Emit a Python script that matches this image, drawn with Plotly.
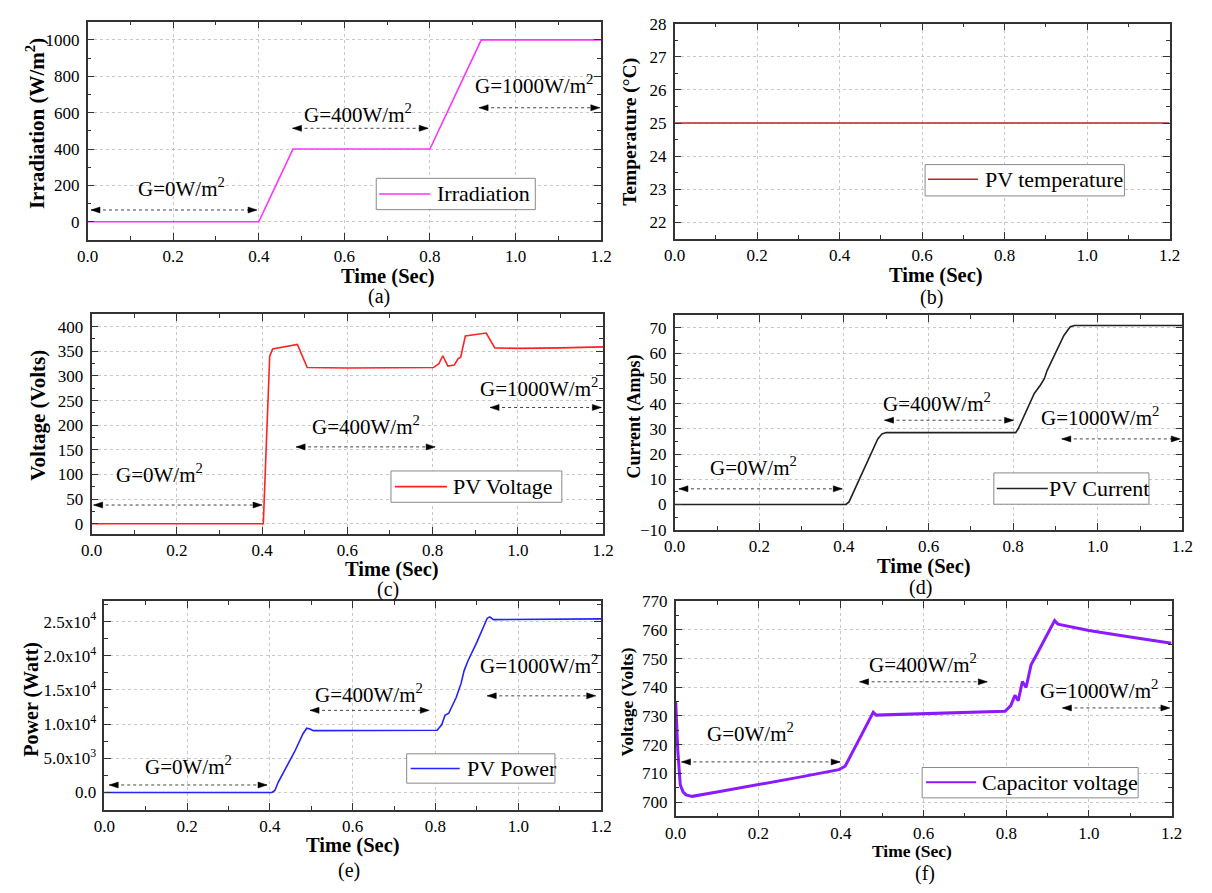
import plotly.graph_objects as go

W, H = 1212, 893
FONT = "Liberation Serif"

# ---------------- data ----------------
irr_t = [0.0, 0.40, 0.48, 0.80, 0.92, 1.20]
irr_g = [0, 0, 400, 400, 1000, 1000]

temp_t = [0.0, 1.2]
temp_c = [25, 25]

pv_v_t = [0.0, 0.400, 0.403, 0.418, 0.425, 0.483, 0.506, 0.60, 0.70, 0.802, 0.815,
          0.824, 0.836, 0.851, 0.860, 0.866, 0.877, 0.926, 0.946, 1.0, 1.1, 1.2]
pv_v = [0, 0, 0, 340, 355, 364, 317, 316, 317, 317, 325,
        341, 320, 322, 335, 338, 381, 387, 357, 356, 357, 359]

pv_i_t = [0.0, 0.405, 0.412, 0.42, 0.46, 0.48, 0.49, 0.50, 0.60, 0.70, 0.806, 0.812,
          0.82, 0.85, 0.865, 0.874, 0.88, 0.92, 0.935, 0.945, 1.0, 1.2]
pv_i = [0, 0, 1, 4, 19, 26, 28, 28.5, 28.5, 28.5, 28.5, 30,
        33, 44, 47.5, 50, 53, 67, 70.5, 71, 71, 71]

pv_p_t = [0.0, 0.405, 0.412, 0.42, 0.46, 0.48, 0.489, 0.497, 0.505, 0.60, 0.70, 0.804,
          0.815, 0.823, 0.832, 0.850, 0.862, 0.869, 0.878, 0.90, 0.925, 0.931, 0.94,
          1.0, 1.1, 1.2]
pv_p = [0, 0, 300, 1500, 6000, 8600, 9400, 9300, 9050, 9050, 9050, 9100,
        9900, 11300, 11600, 13900, 16000, 17800, 19200, 22000, 25500, 25700, 25300,
        25300, 25300, 25400]

cap_t = [0.0, 0.005, 0.011, 0.018, 0.025, 0.04, 0.1, 0.2, 0.3, 0.395, 0.41, 0.45,
         0.478, 0.485, 0.6, 0.7, 0.797, 0.811, 0.821, 0.829, 0.839, 0.848, 0.860,
         0.871, 0.917, 0.925, 1.0, 1.1, 1.2]
cap_v = [735, 718, 706, 703.5, 702.5, 702, 703.5, 706, 708.7, 711.3, 712.5, 723.5,
         731.3, 730.3, 730.8, 731.2, 731.6, 733.6, 737.2, 735.3, 742, 739.9, 747.8,
         750.7, 763.2, 762, 759.8, 757.5, 755.3]

power_tickvals = [0, 5000, 10000, 15000, 20000, 25000]
power_ticktext = ["0.0", "5.0x10<sup>3</sup>", "1.0x10<sup>4</sup>", "1.5x10<sup>4</sup>",
                  "2.0x10<sup>4</sup>", "2.5x10<sup>4</sup>"]

# irradiance region labels: (x, y, text) and dotted double-headed spans: (x0, x1, y)
G0 = "G=0W/m<sup>2</sup>"
G4 = "G=400W/m<sup>2</sup>"
G10 = "G=1000W/m<sup>2</sup>"
region_labels = {
    1: [(0.220, 186, G0), (0.631, 595, G4), (1.043, 754, G10)],
    3: [(0.159, 101, G0), (0.643, 200, G4), (1.05, 277, G10)],
    4: [(0.186, 15, G0), (0.619, 40.4, G4), (1.005, 35, G10)],
    5: [(0.204, 3964, G0), (0.639, 14550, G4), (1.049, 18700, G10)],
    6: [(0.182, 724.3, G0), (0.598, 748.4, G4), (1.024, 739.3, G10)],
}
region_spans = {
    1: [(0.008, 0.396, 65), (0.479, 0.796, 514), (0.915, 1.197, 627)],
    3: [(0.005, 0.40, 38), (0.48, 0.806, 156), (0.935, 1.196, 236)],
    4: [(0.010, 0.396, 6.2), (0.496, 0.801, 33.4), (0.915, 1.195, 26)],
    5: [(0.012, 0.393, 1100), (0.497, 0.785, 12020), (0.925, 1.187, 14140)],
    6: [(0.014, 0.398, 714), (0.445, 0.754, 741.9), (0.936, 1.196, 732.8)],
}

# ---------------- panel geometry (pixels: left, right, top, bottom) ----------------
boxes = {
    1: (78, 601, 13, 236),
    2: (676, 1180, 15, 235),
    3: (82, 603, 312, 536),
    4: (676, 1193, 313, 532),
    5: (95, 601, 605, 818),
    6: (677, 1182, 605, 825),
}

yspec = {
    1: dict(range=[-100, 1100], dtick=200, minor=100, tick0=0),
    2: dict(range=[21.5, 28], dtick=1, minor=0.5, tick0=22),
    3: dict(range=[-20, 425], dtick=50, minor=25, tick0=0),
    4: dict(range=[-10, 75], dtick=10, minor=5, tick0=-10),
    5: dict(range=[-2500, 28000], dtick=5000, minor=2500, tick0=0),
    6: dict(range=[695, 770], dtick=10, minor=5, tick0=700),
}

series = [
    (1, irr_t, irr_g, "Irradiation", "#ff33ff", 1.6),
    (2, temp_t, temp_c, "PV temperature", "#b22a2a", 1.6),
    (3, pv_v_t, pv_v, "PV Voltage", "#ff2222", 1.6),
    (4, pv_i_t, pv_i, "PV Current", "#222222", 1.6),
    (5, pv_p_t, pv_p, "PV Power", "#2222ff", 1.6),
    (6, cap_t, cap_v, "Capacitor voltage", "#8c1aff", 3.0),
]

# legend boxes: (box x0, x1, y0, y1, line x0, x1, line y, text x) in pixels
legend_boxes = {
    1: (372, 534, 173, 205, 375, 427, 189, 432),
    2: (931, 1134, 159, 191, 934, 985, 174, 990),
    3: (387, 561, 472, 504, 391, 444, 488, 448),
    4: (1001, 1159, 474, 506, 1004, 1056, 490, 1055),
    5: (403, 554, 761, 791, 407, 457, 776, 462),
    6: (928, 1148, 775, 806, 932, 983, 790, 987),
}

fig = go.Figure()

for k, t, v, name, color, lw in series:
    sfx = "" if k == 1 else str(k)
    fig.add_trace(go.Scatter(
        x=t, y=v, mode="lines", name=name, showlegend=False,
        line=dict(color=color, width=lw),
        xaxis="x" + sfx, yaxis="y" + sfx,
    ))

layout = dict(
    width=W, height=H,
    margin=dict(l=0, r=0, t=0, b=0),
    paper_bgcolor="white", plot_bgcolor="white",
    font=dict(family=FONT, size=16, color="black"),
    showlegend=False,
)

axis_common = dict(
    showline=True, linecolor="#333333", linewidth=1.5, mirror="allticks",
    ticks="inside", ticklen=7, tickwidth=1.3, tickcolor="#333333",
    showgrid=True, gridcolor="#c8c8c8", griddash="dot", gridwidth=1,
    zeroline=False,
    tickfont=dict(family=FONT, size=17, color="black"),
)

for k, (l, r, t, b) in boxes.items():
    sfx = "" if k == 1 else str(k)
    xd = [l / W, r / W]
    yd = [1 - b / H, 1 - t / H]
    ys = yspec[k]
    layout["xaxis" + sfx] = dict(
        axis_common, domain=xd, range=[0, 1.2], tick0=0, dtick=0.2,
        tickformat=".1f", anchor="y" + sfx,
        minor=dict(ticks="inside", ticklen=4, dtick=0.1, tick0=0,
                   tickcolor="#333333", showgrid=False),
    )
    yax = dict(
        axis_common, domain=yd, range=ys["range"], tick0=ys["tick0"], dtick=ys["dtick"],
        anchor="x" + sfx, ticklabelstandoff=3,
        minor=dict(ticks="inside", ticklen=4, dtick=ys["minor"], tick0=ys["tick0"],
                   tickcolor="#333333", showgrid=False),
    )
    if k == 5:
        yax.update(tickmode="array", tickvals=power_tickvals, ticktext=power_ticktext)
        yax["minor"] = dict(ticks="inside", ticklen=4, tickmode="array",
                            tickvals=[-2500, 2500, 7500, 12500, 17500, 22500, 27500],
                            tickcolor="#333333", showgrid=False)
    layout["yaxis" + sfx] = yax

fig.update_layout(**layout)

annotations = []
shapes = []

# region labels and dotted double-headed spans with filled arrowheads
for k in region_labels:
    sfx = "" if k == 1 else str(k)
    for x, y, txt in region_labels[k]:
        annotations.append(dict(
            x=x, y=y, xref="x" + sfx, yref="y" + sfx, text=txt, showarrow=False,
            font=dict(family=FONT, size=21, color="black"),
            xanchor="center", yanchor="middle",
        ))
    for x0, x1, y in region_spans[k]:
        shapes.append(dict(
            type="line", x0=x0, x1=x1, y0=y, y1=y, xref="x" + sfx, yref="y" + sfx,
            line=dict(color="#444444", width=1, dash="dot"),
        ))
        for xe, head in ((x0, "M0,0 L9,3 L9,-3 Z"), (x1, "M0,0 L-9,3 L-9,-3 Z")):
            shapes.append(dict(
                type="path", xref="x" + sfx, yref="y" + sfx,
                xsizemode="pixel", ysizemode="pixel", xanchor=xe, yanchor=y,
                path=head, fillcolor="black", line=dict(color="black", width=0.5),
            ))

# framed legends, one per panel
for k, t, v, name, color, lw in series:
    bx0, bx1, by0, by1, lx0, lx1, ly, tx = legend_boxes[k]
    shapes.append(dict(
        type="rect", xref="paper", yref="paper",
        x0=bx0 / W, x1=bx1 / W, y0=1 - by1 / H, y1=1 - by0 / H,
        line=dict(color="#8a8a8a", width=1), fillcolor="white", layer="above",
    ))
    shapes.append(dict(
        type="line", xref="paper", yref="paper",
        x0=lx0 / W, x1=lx1 / W, y0=1 - ly / H, y1=1 - ly / H,
        line=dict(color=color, width=min(lw, 2.0)), layer="above",
    ))
    annotations.append(dict(
        x=tx / W, y=1 - ly / H, xref="paper", yref="paper", text=name,
        showarrow=False, xanchor="left", yanchor="middle",
        font=dict(family=FONT, size=22, color="black"),
    ))

# axis titles
ytitles = [
    (25, 117, "Irradiation (W/m<sup>2</sup>)", 21),
    (631, 126, "Temperature (°C)", 19.5),
    (28, 415, "Voltage (Volts)", 21),
    (635, 416, "Current (Amps)", 18),
    (20, 705, "Power (Watt)", 20),
    (627, 708, "Voltage (Volts)", 17.5),
]
for x, y, txt, sz in ytitles:
    annotations.append(dict(
        x=x / W, y=1 - y / H, xref="paper", yref="paper", text=f"<b>{txt}</b>",
        textangle=-90, showarrow=False, xanchor="center", yanchor="middle",
        font=dict(family=FONT, size=sz, color="black"),
    ))

xtitles = [
    (384, 273, 20.5), (942, 272, 20.5), (388, 573, 20.5),
    (930, 570, 20.5), (348, 855, 20.5), (918, 860, 17.5),
]
for x, y, sz in xtitles:
    annotations.append(dict(
        x=x / W, y=1 - y / H, xref="paper", yref="paper", text="<b>Time (Sec)</b>",
        showarrow=False, xanchor="center", yanchor="middle",
        font=dict(family=FONT, size=sz, color="black"),
    ))

captions = [
    (375, 294, "(a)"), (938, 295, "(b)"), (384, 593, "(c)"),
    (926, 591, "(d)"), (344, 880, "(e)"), (931, 883, "(f)"),
]
for x, y, txt in captions:
    annotations.append(dict(
        x=x / W, y=1 - y / H, xref="paper", yref="paper", text=txt,
        showarrow=False, xanchor="center", yanchor="middle",
        font=dict(family=FONT, size=20, color="black"),
    ))

fig.update_layout(annotations=annotations, shapes=shapes)

fig.write_html("out.html")
